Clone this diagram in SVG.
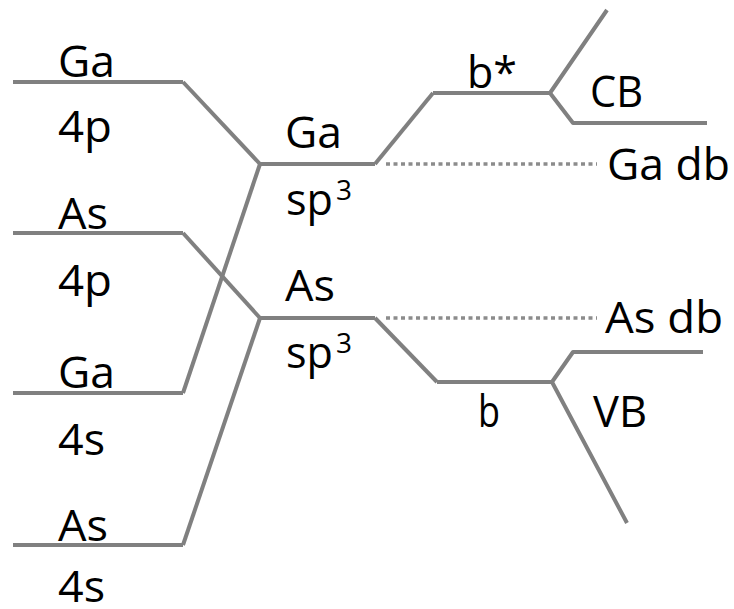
<svg xmlns="http://www.w3.org/2000/svg" width="734" height="609" viewBox="0 0 734 609">
<style>
.l{fill:none;stroke:#808080;stroke-width:4;stroke-linejoin:round}
.d{fill:none;stroke:#8c8c8c;stroke-width:3.5;stroke-dasharray:4 3.5}
text{font-family:"Open Sans","DejaVu Sans",sans-serif;font-size:43px;fill:#000}
.sup{font-size:27px}
</style>
<rect width="734" height="609" fill="#fff"/>
<g id="connectors">
<path class="l" d="M183,82 L260,164"/>
<path class="l" d="M183,393 L260,164"/>
<path class="l" d="M183,233 L260,318"/>
<path class="l" d="M183,545 L260,318"/>
<path class="l" d="M375,164 L433,93"/>
<path class="l" d="M375,318 L437,382"/>
<path class="d" d="M386,164 H597"/>
<path class="d" d="M386,318 H597"/>
</g>
<g id="ga4p">
<path class="l" d="M13,82 H183"/>
<text x="58" y="77" textLength="57" lengthAdjust="spacingAndGlyphs">Ga</text>
<text x="58" y="142" textLength="54" lengthAdjust="spacingAndGlyphs">4p</text>
</g>
<g id="as4p">
<path class="l" d="M13,233 H183"/>
<text x="58" y="229" textLength="50" lengthAdjust="spacingAndGlyphs">As</text>
<text x="58" y="296" textLength="54" lengthAdjust="spacingAndGlyphs">4p</text>
</g>
<g id="ga4s">
<path class="l" d="M13,393 H183"/>
<text x="58" y="388" textLength="57" lengthAdjust="spacingAndGlyphs">Ga</text>
<text x="58" y="455" textLength="47" lengthAdjust="spacingAndGlyphs">4s</text>
</g>
<g id="as4s">
<path class="l" d="M13,545 H183"/>
<text x="58" y="541" textLength="50" lengthAdjust="spacingAndGlyphs">As</text>
<text x="58" y="602" textLength="47" lengthAdjust="spacingAndGlyphs">4s</text>
</g>
<g id="gasp3">
<path class="l" d="M260,164 H375"/>
<text x="285" y="148" textLength="57" lengthAdjust="spacingAndGlyphs">Ga</text>
<text x="286" y="215" textLength="47" lengthAdjust="spacingAndGlyphs">sp</text>
<text class="sup" x="336" y="200" textLength="16" lengthAdjust="spacingAndGlyphs">3</text>
</g>
<g id="assp3">
<path class="l" d="M260,318 H375"/>
<text x="285" y="301" textLength="50" lengthAdjust="spacingAndGlyphs">As</text>
<text x="286" y="368" textLength="47" lengthAdjust="spacingAndGlyphs">sp</text>
<text class="sup" x="336" y="353" textLength="16" lengthAdjust="spacingAndGlyphs">3</text>
</g>
<g id="bstar">
<path class="l" d="M433,93 H550"/>
<text x="467" y="88" textLength="50" lengthAdjust="spacingAndGlyphs">b*</text>
</g>
<g id="cb">
<path class="l" d="M607,10 L550,93 L573,123 H707"/>
<text x="590" y="107" textLength="53" lengthAdjust="spacingAndGlyphs">CB</text>
</g>
<g id="gadb">
<text x="607" y="180" textLength="123" lengthAdjust="spacingAndGlyphs">Ga db</text>
</g>
<g id="b">
<path class="l" d="M437,382 H552"/>
<text x="478" y="427" textLength="22" lengthAdjust="spacingAndGlyphs">b</text>
</g>
<g id="vb">
<path class="l" d="M703,352 H573 L552,382 L627,523"/>
<text x="593" y="427" textLength="54" lengthAdjust="spacingAndGlyphs">VB</text>
</g>
<g id="asdb">
<text x="605" y="333" textLength="118" lengthAdjust="spacingAndGlyphs">As db</text>
</g>
</svg>
